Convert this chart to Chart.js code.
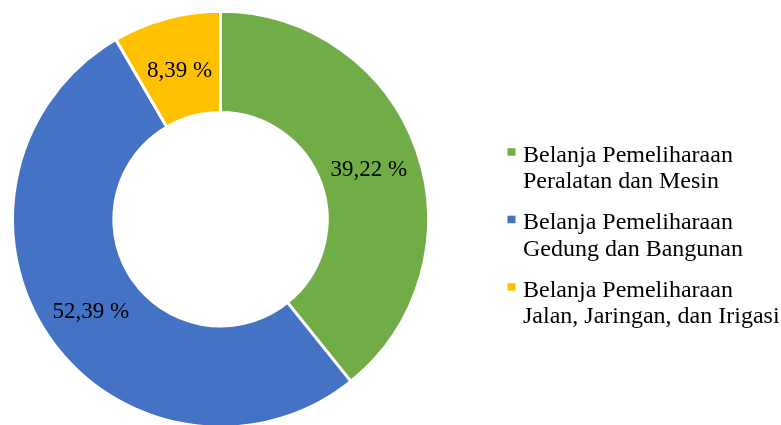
<!DOCTYPE html>
<html>
<head>
<meta charset="utf-8">
<script src="https://cdn.jsdelivr.net/npm/chart.js@4/dist/chart.umd.min.js"></script>
<style>
html,body{margin:0;padding:0;background:#fff;overflow:hidden;width:781px;height:425px;}
#wrap{position:relative;width:781px;height:440px;}
</style>
</head>
<body>
<div id="wrap"><canvas id="c" width="781" height="440"></canvas></div>
<script>
const categories = [
  ["Belanja Pemeliharaan", "Peralatan dan Mesin"],
  ["Belanja Pemeliharaan", "Gedung dan Bangunan"],
  ["Belanja Pemeliharaan", "Jalan, Jaringan, dan Irigasi"]
];
const values = [39.22, 52.39, 8.39];
const valueLabels = ["39,22 %", "52,39 %", "8,39 %"];
const colors = ["#70AD47", "#4472C4", "#FFC000"];

const FONT = "'Liberation Serif', 'Times New Roman', serif";

const labelPlugin = {
  id: 'sliceLabels',
  afterDatasetsDraw(chart) {
    const ctx = chart.ctx;
    const meta = chart.getDatasetMeta(0);
    ctx.save();
    ctx.font = "23px " + FONT;
    ctx.fillStyle = "#000";
    ctx.textAlign = "center";
    ctx.textBaseline = "alphabetic";
    meta.data.forEach((arc, i) => {
      const p = arc.getCenterPoint();
      ctx.fillText(valueLabels[i], p.x, p.y + 9.5);
    });
    ctx.restore();
  }
};

const legendPlugin = {
  id: 'sideLegend',
  afterDraw(chart) {
    const ctx = chart.ctx;
    ctx.save();
    ctx.font = "24px " + FONT;
    ctx.fillStyle = "#000";
    ctx.textAlign = "left";
    ctx.textBaseline = "alphabetic";
    const x0 = 507.5, tx = 523;
    const firstBase = 161.7, lineH = 26.5, itemH = 67.5;
    chart.data.labels.forEach((lab, i) => {
      const base = firstBase + i * itemH;
      ctx.fillStyle = chart.data.datasets[0].backgroundColor[i];
      ctx.fillRect(x0, base - 13.5, 8, 7.5);
      ctx.fillStyle = "#000";
      lab.forEach((line, j) => ctx.fillText(line, tx, base + j * lineH));
    });
    ctx.restore();
  }
};

new Chart(document.getElementById('c'), {
  type: 'doughnut',
  data: {
    labels: categories,
    datasets: [{
      data: values,
      backgroundColor: colors,
      borderColor: '#ffffff',
      borderWidth: 3,
      hoverOffset: 0
    }]
  },
  options: {
    responsive: false,
    animation: false,
    cutout: '51.3%',
    rotation: 0,
    layout: { padding: { left: 11, top: 9.5, right: 351, bottom: 11 } },
    plugins: {
      legend: { display: false },
      tooltip: { enabled: false }
    }
  },
  plugins: [labelPlugin, legendPlugin]
});
</script>
</body>
</html>
